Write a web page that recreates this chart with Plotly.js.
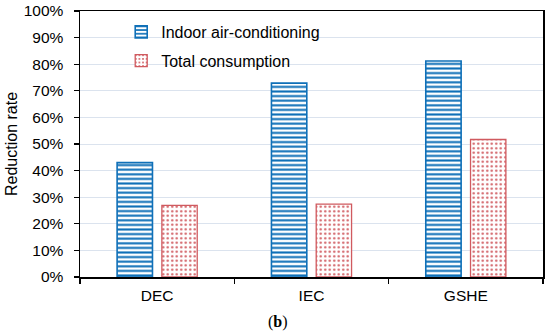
<!DOCTYPE html>
<html>
<head>
<meta charset="utf-8">
<script src="https://cdn.plot.ly/plotly-3.0.1.min.js"></script>
<style>html,body{margin:0;padding:0;background:#fff;}#chart{width:550px;height:334px;}</style>
</head>
<body>
<div id="chart"></div>
<script>
const categories = ["DEC", "IEC", "GSHE"];
const seriesNames = ["Indoor air-conditioning", "Total consumption"];
const indoorAC = [0.430, 0.729, 0.812];
const totalConsumption = [0.269, 0.274, 0.517];
const yTickValues = [0, 0.1, 0.2, 0.3, 0.4, 0.5, 0.6, 0.7, 0.8, 0.9, 1.0];
const yTickLabels = ["0%", "10%", "20%", "30%", "40%", "50%", "60%", "70%", "80%", "90%", "100%"];

const blue = "#0f70b8";
const red = "#d05a5f";
const font = "Liberation Sans, Arial, sans-serif";

const traces = [
  {
    type: "bar", name: seriesNames[0], x: categories, y: indoorAC, legendgroup: "a",
    marker: {
      color: "white",
      line: {color: blue, width: 1.6},
      pattern: {shape: "-", fgcolor: blue, bgcolor: "white", size: 4.6, solidity: 0.45}
    }
  },
  {
    type: "bar", name: seriesNames[1], x: categories, y: totalConsumption, legendgroup: "b",
    marker: {
      color: "white",
      line: {color: red, width: 1.3},
      pattern: {shape: ".", fgcolor: red, bgcolor: "white", size: 4.5, solidity: 0.22}
    }
  }
];

const layout = {
  width: 550, height: 334,
  margin: {l: 80, r: 7, t: 11, b: 57},
  paper_bgcolor: "white", plot_bgcolor: "white",
  font: {family: font, size: 15, color: "#000"},
  barmode: "group", bargap: 0.42, bargroupgap: 0.21,
  showlegend: true,
  legend: {
    x: 0.089, y: 0.985, xanchor: "left", yanchor: "top",
    bgcolor: "rgba(0,0,0,0)", font: {family: font, size: 16, color: "#000"},
    tracegroupgap: 5, itemwidth: 30
  },
  xaxis: {
    showline: true, linecolor: "#000", linewidth: 1.5, mirror: true,
    ticks: "outside", tickson: "boundaries", ticklen: 5, tickcolor: "#000", tickwidth: 1.2,
    tickfont: {family: font, size: 15.5, color: "#000"}, ticklabelstandoff: 4,
    showgrid: false, zeroline: false
  },
  yaxis: {
    range: [0, 1.0], tickvals: yTickValues, ticktext: yTickLabels,
    showline: true, linecolor: "#000", linewidth: 1.5, mirror: true,
    ticks: "outside", ticklen: 5, tickcolor: "#000", tickwidth: 1.2,
    tickfont: {family: font, size: 15.5, color: "#000"}, ticklabelstandoff: 7,
    showgrid: true, gridcolor: "#dbe3ee", gridwidth: 1, zeroline: false,
    title: {text: "Reduction rate", font: {family: font, size: 16, color: "#000"}, standoff: 2}
  },
  annotations: [
    {text: "(<b>b</b>)", xref: "paper", yref: "paper", x: 0.428, y: -0.17, xanchor: "center", yanchor: "middle",
     showarrow: false, font: {family: "Liberation Serif, Times New Roman, serif", size: 16, color: "#000"}}
  ]
};

Plotly.newPlot("chart", traces, layout, {displayModeBar: false, staticPlot: true});
</script>
</body>
</html>
